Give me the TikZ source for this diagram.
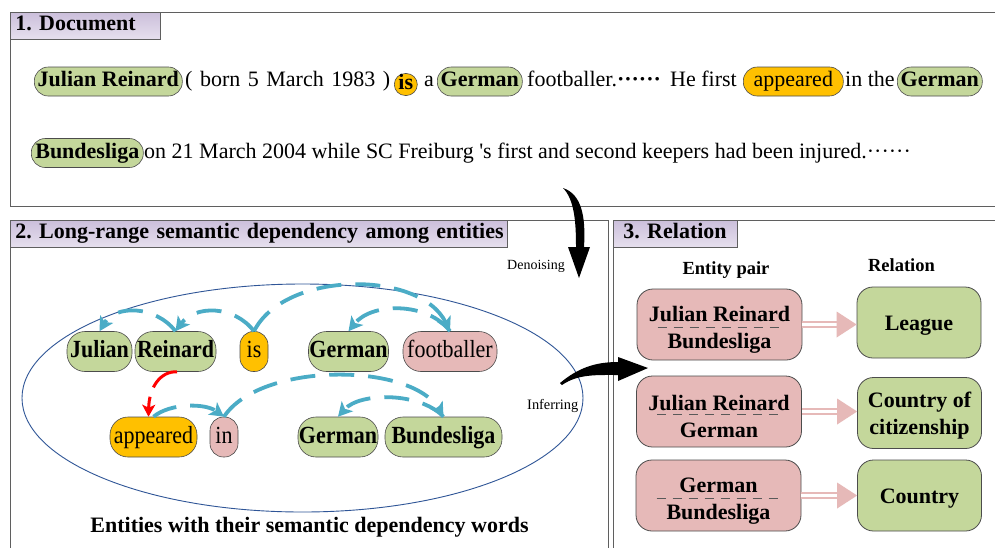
\documentclass[tikz,border=0pt]{standalone}
\usepackage{fontspec}
\setmainfont{Liberation Serif}
\usepackage{graphicx}
\usetikzlibrary{arrows.meta,calc}

\definecolor{tabtop}{HTML}{CBBFDB}
\definecolor{tabbot}{HTML}{E6E0EE}
\definecolor{framegray}{HTML}{5F5F5F}
\definecolor{entgreen}{HTML}{C4D79B}
\definecolor{wordgold}{HTML}{FFC000}
\definecolor{wordpink}{HTML}{E6B9B8}
\definecolor{depblue}{HTML}{4BACC6}
\definecolor{ringblue}{HTML}{2F5597}
\definecolor{relpink}{HTML}{E6B9B8}

\frenchspacing
\newcommand{\fsz}[1]{\fontsize{#1}{#1}\selectfont}
\newcommand{\tallword}[1]{\scalebox{1}[1.12]{#1}}
\newcommand{\middots}{\hbox to 43pt{·\hfil·\hfil·\hfil·\hfil·\hfil·}}
\newcommand{\boldmiddots}{\hbox to 42pt{\bfseries ·\hfil·\hfil·\hfil·\hfil·\hfil·}}
% struts that lower the first line of the boxed labels a little
\newcommand{\pairstrut}{\rule{0pt}{25pt}}
\newcommand{\relstrut}{\rule{0pt}{20pt}}
% double pink arrow from an entity pair to its relation
\newcommand{\relarrow}[2]{%
  \draw[reldouble] (#1.east) -- ($(#2.west |- #1.east)+(-20,0)$);
  \fill[relpink] ($(#2.west |- #1.east)+(-20,-13)$) -- (#2.west |- #1.east)
     -- ($(#2.west |- #1.east)+(-20,13)$) -- cycle;}

\begin{document}
\begin{tikzpicture}[x=1pt,y=-1pt,
  panel/.style={draw=framegray,line width=1pt},
  tab/.style={draw=framegray,line width=0.8pt,top color=tabtop,bottom color=tabbot,
    anchor=north west,inner xsep=5pt,inner ysep=0pt,minimum height=27pt,align=left,
    font=\fsz{22}\bfseries,text height=15pt,text depth=5pt},
  doctext/.style={anchor=west,inner sep=0pt,font=\fsz{22},text height=15pt,text depth=5pt},
  docpill/.style={doctext,draw=black!70,line width=0.6pt,rounded corners=14pt,minimum height=29pt},
  word/.style={draw=black!70,line width=0.6pt,rounded corners=18pt,minimum height=40pt,
    inner sep=0pt,font=\fsz{22},text height=17pt,text depth=5pt},
  dep/.style={depblue,line width=3.8pt,dash pattern=on 25pt off 14pt,
    -{Stealth[length=14pt,width=15pt,inset=3.5pt]}},
  redarr/.style={red,line width=3pt,dash pattern=on 30pt off 10pt,
    -{Stealth[length=12pt,width=13pt,inset=3pt]}},
  pairbox/.style={draw=black!70,line width=0.8pt,fill=relpink,rounded corners=16pt,
    minimum width=165pt,minimum height=71pt,align=center,inner sep=0pt,
    font=\fontsize{22}{27}\selectfont\bfseries},
  relbox/.style={pairbox,fill=entgreen,minimum width=124pt},
  sepline/.style={black!65,line width=0.8pt,dash pattern=on 9pt off 7pt},
  reldouble/.style={draw=relpink,double=white,line width=2.2pt,double distance=2.5pt},
  note/.style={font=\fsz{14},anchor=base west,inner sep=0pt}
]
\useasboundingbox (0,0) rectangle (995,547);
\fill[white] (0,0) rectangle (995,547);

% ---------- panel frames ----------
\begin{scope}
  \clip (0,0) rectangle (995,547);
  \draw[panel] (10,12) rectangle (1010,206);
  \draw[panel] (10,220) rectangle (608,560);
  \draw[panel] (613,220) rectangle (1010,560);
\end{scope}
\node[tab,text width=140pt] (t1) at (10,12) {\mbox{1. Document}};
\node[tab,text width=487pt] (t2) at (10,220) {\mbox{2. Long-range semantic dependency among entities}};
\node[tab,inner xsep=10pt,text width=104pt] (t3) at (613,220) {\mbox{3. Relation}};

% ---------- 1. document text ----------
\node[docpill,fill=entgreen,minimum width=148pt] (jr) at (34,81.5) {\textbf{Julian Reinard}};
\node[doctext] (born) at (185,81.5) {\makebox[205pt][s]{( born 5 March 1983 )}};
\node[docpill,fill=wordgold,minimum width=23pt,minimum height=22pt,rounded corners=11pt] (isd) at (394,84.5) {\textbf{is}};
\node[doctext] (ad) at (424,81.5) {a};
\node[docpill,fill=entgreen,minimum width=85pt] (gerd) at (437,81.5) {\textbf{German}};
\node[doctext] (fbd) at (527,81.5) {footballer.\boldmiddots};
\node[doctext] (hf) at (670,81.5) {He first};
\node[docpill,fill=wordgold,minimum width=100pt] (appd) at (743,81.5) {appeared};
\node[doctext] (inthe) at (845,81.5) {in the};
\node[docpill,fill=entgreen,minimum width=85pt] (gerdb) at (897,81.5) {\textbf{German}};

\node[docpill,fill=entgreen,minimum width=112pt] (bund) at (31,153) {\textbf{Bundesliga}};
\node[doctext] (rest) at (144,153) {on 21 March 2004 while SC Freiburg \textquotesingle s first and second keepers had been injured.\middots};

% ---------- 2. dependency graph ----------
\draw[ringblue,line width=0.9pt] (302.5,398) ellipse [x radius=280.5pt, y radius=114pt];

\node[word,fill=entgreen,minimum width=65pt] (jul) at (99.5,351.5) {\tallword{\textbf{Julian}}};
\node[word,fill=entgreen,minimum width=81pt] (rei) at (175.5,351.5) {\tallword{\textbf{Reinard}}};
\node[word,fill=wordgold,minimum width=28pt,rounded corners=13.5pt] (isw) at (254,351.5) {\tallword{is}};
\node[word,fill=entgreen,minimum width=80pt] (gerw) at (348.5,351.5) {\tallword{\textbf{German}}};
\node[word,fill=wordpink,minimum width=94pt] (fbw) at (450,351.5) {\tallword{footballer}};
\node[word,fill=wordgold,minimum width=87pt] (appw) at (153.5,437) {\tallword{appeared}};
\node[word,fill=wordpink,minimum width=28pt,rounded corners=13.5pt] (inw) at (224,437) {\tallword{in}};
\node[word,fill=entgreen,minimum width=80pt] (gerwb) at (338,437) {\tallword{\textbf{German}}};
\node[word,fill=entgreen,minimum width=117pt] (bunw) at (443.5,437) {\tallword{\textbf{Bundesliga}}};

\draw[dep] (rei.north) .. controls (155,305) and (115,305) .. (jul.north);
\draw[dep] (isw.north) .. controls (234,305) and (195,305) .. (rei.north);
\draw[dep] (isw.north) .. controls (285,270) and (420,270) .. (fbw.north);
\draw[dep] (fbw.north) .. controls (428,302) and (372,302) .. (gerw.north);
\draw[dep] (appw.north) .. controls (170,403) and (205,403) .. (inw.north);
\draw[dep] (inw.north) .. controls (260,362) and (410,362) .. (bunw.north);
\draw[dep] (bunw.north) .. controls (420,392) and (360,392) .. (gerwb.north);
\draw[redarr] ([xshift=1.5pt]rei.south) .. controls (160,371) and (149,388) .. ([xshift=-5pt]appw.north);

\node[note] (den) at (507,269) {Denoising};
\node[note,font=\fsz{14.4}] (inf) at (527,409) {Inferring};
\node[font=\fsz{22}\bfseries,anchor=base,inner sep=0pt] (cap) at (309.5,532) {Entities with their semantic dependency words};

% ---------- curved block arrows ----------
\fill[black] (563,188) .. controls (575,200) and (576,225) .. (576,247) -- (568,247) -- (579,278)
  -- (590,247) -- (584,247) .. controls (586,215) and (581,194) .. (563,188) -- cycle;
\fill[black] (560,383) .. controls (578,368) and (595,362) .. (618,362) -- (618,357) -- (648,368)
  -- (618,381) -- (618,375) .. controls (596,375) and (578,374) .. (562,385) -- cycle;

% ---------- 3. relations ----------
\node[font=\fontsize{18.5}{20}\selectfont\bfseries,anchor=base,inner sep=0pt] (hpair) at (726,274) {Entity pair};
\node[font=\fontsize{18.5}{20}\selectfont\bfseries,anchor=base,inner sep=0pt] (hrel) at (901.5,271) {Relation};

\node[pairbox] (p1) at (719.5,324.5) {\pairstrut Julian Reinard\\Bundesliga};
\node[pairbox] (p2) at (719,411.5) {\pairstrut Julian Reinard\\German};
\node[pairbox] (p3) at (718.5,495.5) {\pairstrut German\\Bundesliga};
\node[relbox] (r1) at (919,322.5) {\relstrut League};
\node[relbox] (r2) at (919.5,413) {\relstrut Country of\\citizenship};
\node[relbox] (r3) at (919.5,495.5) {\relstrut Country};

\foreach \b in {p1,p2,p3}{
  \draw[sepline] ($(\b.center)+(-62,3)$) -- ($(\b.center)+(64,3)$);
}
\relarrow{p1}{r1}
\relarrow{p2}{r2}
\relarrow{p3}{r3}
\end{tikzpicture}
\end{document}
